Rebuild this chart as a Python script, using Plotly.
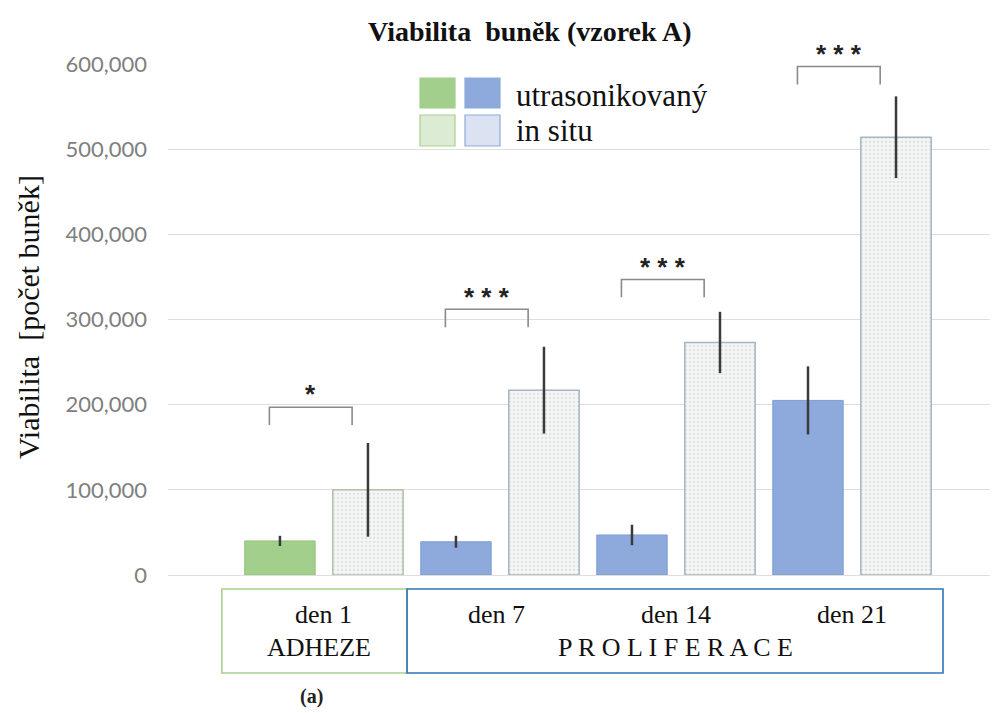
import plotly.graph_objects as go

# Cell viability per culture day, sample A
days = ["den 1", "den 7", "den 14", "den 21"]
ultrasonic = [40000, 39000, 47000, 205000]
ultrasonic_err = [6000, 7000, 12000, 40000]
in_situ = [100000, 217000, 273000, 514000]
in_situ_err = [55000, 51000, 36000, 48000]

# Significance brackets between the two groups of each day
sig_labels = ["*", "* * *", "* * *", "* * *"]
bracket_top = [197000, 312000, 347000, 597000]
bracket_drop = 21000
bracket_left = -0.31
bracket_right = 0.16

y_ticks = [0, 100000, 200000, 300000, 400000, 500000, 600000]
Y_MAX = 600000

GREEN = "#a2cf8c"
BLUE = "#8eaadc"
SERIF = "Liberation Serif"
INK = "#111111"

# Figure / plot-area geometry in pixels
W, H = 1000, 713
PL, PR, PT, PB = 168, 990, 64, 575


def px(xp):
    return (xp - PL) / (PR - PL)


def py(yp):
    return (PB - yp) / (PB - PT)


fig = go.Figure()

fig.add_trace(go.Bar(
    x=days, y=ultrasonic, name="utrasonikovaný",
    marker=dict(color=[GREEN, BLUE, BLUE, BLUE],
                line=dict(color=["#93c27c", "#7e9dd3", "#7e9dd3", "#7e9dd3"], width=1)),
    error_y=dict(type="data", array=ultrasonic_err, color="#3a3a3a",
                 thickness=2.5, width=0),
))
fig.add_trace(go.Bar(
    x=days, y=in_situ, name="in situ",
    marker=dict(color="#f4f5f5",
                line=dict(color=["#b4c2aa", "#a7b5c2", "#a7b5c2", "#a7b5c2"], width=1.5),
                pattern=dict(shape=".", fgcolor="#c9cdd0", bgcolor="#f4f5f5",
                             size=4, solidity=0.25)),
    error_y=dict(type="data", array=in_situ_err, color="#3a3a3a",
                 thickness=2.5, width=0),
))

shapes = []
annotations = []


def text(x, y, s, size, xref="paper", yref="paper", xanchor="center",
         family=SERIF, angle=0, color=INK):
    annotations.append(dict(x=x, y=y, xref=xref, yref=yref, text=s, showarrow=False,
                            xanchor=xanchor, yanchor="middle", textangle=angle,
                            font=dict(family=family, size=size, color=color)))


# Brackets and stars
for i, (lab, top) in enumerate(zip(sig_labels, bracket_top)):
    x0 = i + bracket_left
    x1 = i + bracket_right
    shapes.append(dict(
        type="path", xref="x", yref="y",
        path=f"M {x0},{top - bracket_drop} L {x0},{top} L {x1},{top} L {x1},{top - bracket_drop}",
        line=dict(color="#8a8a8a", width=1.6),
    ))
    text((x0 + x1) / 2, (top + 15000) / Y_MAX, f"<b>{lab}</b>", 26, xref="x",
         family="Liberation Sans", color="#222222")

# Phase boxes under the axis
box_y0, box_y1 = py(589), py(673)
shapes.append(dict(type="rect", xref="x", yref="paper", x0=-0.58, x1=0.472,
                   y0=box_y0, y1=box_y1, line=dict(color="#a9d18e", width=1.6)))
shapes.append(dict(type="rect", xref="x", yref="paper", x0=0.472, x1=3.517,
                   y0=box_y0, y1=box_y1, line=dict(color="#2e75b6", width=1.6)))

label_x = [0.0, 0.98, 2.0, 3.0]
for lx, d in zip(label_x, days):
    text(lx, py(614), d, 26, xref="x")
text(-0.03, py(647), "ADHEZE", 26, xref="x")
text(2.0, py(647), "P R O L I F E R A C E", 26, xref="x")
text(-0.07, py(696), "<b>(a)</b>", 20, xref="x", color="#222222")

# Legend drawn as a 2x2 swatch grid
swatches = [
    (420, 455, 78, 108, GREEN, GREEN),
    (465, 500, 78, 108, BLUE, BLUE),
    (420, 455, 115, 146, "#dcebd3", "#a9d18e"),
    (465, 500, 115, 146, "#dbe3f2", "#8eaadc"),
]
for x0, x1, y0, y1, fill, edge in swatches:
    shapes.append(dict(type="rect", xref="paper", yref="paper",
                       x0=px(x0), x1=px(x1), y0=py(y1), y1=py(y0),
                       fillcolor=fill, line=dict(color=edge, width=1.2)))
text(px(514), py(95), "utrasonikovaný", 31, xanchor="left")
text(px(514), py(130), "in situ", 31, xanchor="left")

# Title and y-axis label
text(px(530), py(31), "<b>Viabilita  buněk (vzorek A)</b>", 28)
text(px(28), py(317), "Viabilita  [počet buněk]", 30, angle=-90)

fig.update_layout(
    width=W, height=H,
    margin=dict(l=PL, r=W - PR, t=PT, b=H - PB),
    paper_bgcolor="white", plot_bgcolor="white",
    barmode="group", bargap=0.0, bargroupgap=0.2,
    showlegend=False,
    shapes=shapes, annotations=annotations,
    xaxis=dict(range=[-0.886, 3.784], showticklabels=False, showgrid=False,
               zeroline=False, showline=False, ticks=""),
    yaxis=dict(range=[0, Y_MAX], tickvals=y_ticks, tickformat=",",
               showgrid=True, gridcolor="#dedede", gridwidth=1,
               zeroline=True, zerolinecolor="#dedede", zerolinewidth=1,
               showline=False, ticks="", ticklabelstandoff=20,
               tickfont=dict(family="Lato", size=22, color="#7f7f7f")),
)

fig.write_html("out.html")
